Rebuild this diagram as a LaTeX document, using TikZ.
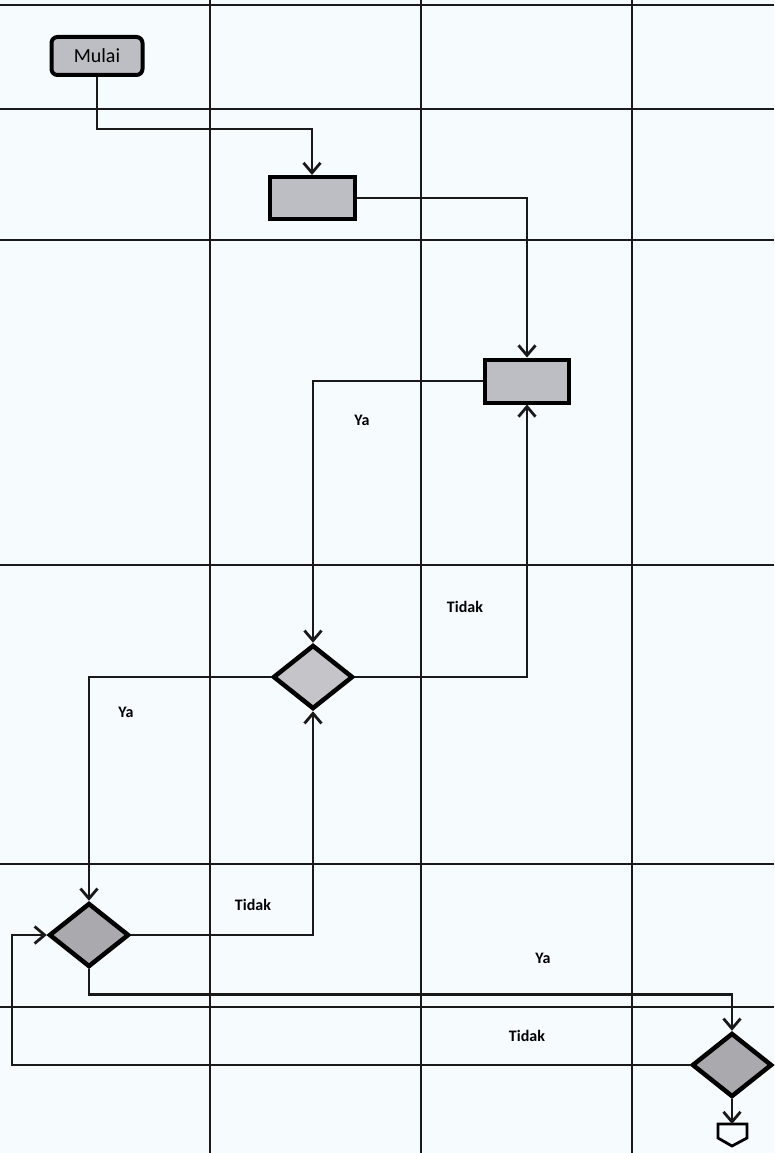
\documentclass[tikz,border=0pt]{standalone}
\usepackage{fontspec}
\setmainfont{Carlito}
\usetikzlibrary{arrows.meta, shapes.geometric}
\definecolor{paper}{HTML}{F6FBFE}
\definecolor{boxgray}{HTML}{BDBDC4}
\definecolor{decgray}{HTML}{A9A9AE}
\definecolor{declight}{HTML}{C4C4C9}

\begin{document}
\begin{tikzpicture}[x=1pt, y=-1pt, >={Straight Barb[length=10pt,width=17pt]},
  lane/.style={line width=2.6pt, black!90},
  flow/.style={->, line width=2.8pt, black!90},
  proc/.style={draw, line width=4pt, fill=boxgray, inner sep=0,
    minimum width=85, minimum height=42},
  dec/.style={diamond, draw, line width=4.5pt, fill=decgray, inner sep=0,
    minimum width=80, minimum height=64},
  lbl/.style={font=\fontsize{16}{19}\selectfont\bfseries}]
  \useasboundingbox (0,0) rectangle (774,1153);
  \fill[paper] (0,0) rectangle (774,1153);
  % swimlane grid
  \foreach \gx in {210,421,632}
    \draw[lane] (\gx,0) -- (\gx,1153);
  \foreach \gy in {5,109,240,565,864,1007}
    \draw[lane] (0,\gy) -- (774,\gy);
  % nodes
  \node[draw, line width=4pt, fill=boxgray, rounded corners=6pt,
    minimum width=91, minimum height=38, inner sep=0,
    font=\fontsize{20}{24}\selectfont] (mulai) at (97,56) {Mulai};
  \node[proc] (proc1) at (312,198) {};
  \node[proc, minimum width=84, minimum height=43] (proc2) at (527,381) {};
  \node[dec, fill=declight] (dec1) at (313,677) {};
  \node[dec] (dec2) at (89,935) {};
  \node[dec] (dec3) at (732,1065) {};
  \coordinate (back) at (12,1000);
  \coordinate (stop) at (732,1124);
  \draw[line width=2.8pt, fill=paper]
    (718,1124) -- (747,1124) -- (747,1138) -- (732,1146) -- (718,1138) -- cycle;
  % connectors
  \draw[flow] (mulai.south) -- ++(0,52) -| (proc1.north);
  \draw[flow] (proc1.east) -| (proc2.north);
  \draw[flow] (proc2.west) -| (dec1.north);
  \draw[flow] (dec1.east) -| (proc2.south);
  \draw[flow] (dec1.west) -| (dec2.north);
  \draw[flow] (dec2.east) -| (dec1.south);
  \draw[flow] (dec2.south) -- ++(0,25) -| (dec3.north);
  \draw[flow] (dec3.west) -| (back) |- (dec2.west);
  \draw[flow] (dec3.south) -- (stop);
  % labels
  \node[lbl] (ya1) at (362,420) {Ya};
  \node[lbl] (tidak1) at (465,607) {Tidak};
  \node[lbl] (ya2) at (126,712) {Ya};
  \node[lbl] (tidak2) at (253,905) {Tidak};
  \node[lbl] (ya3) at (543,958) {Ya};
  \node[lbl] (tidak3) at (527,1036) {Tidak};
\end{tikzpicture}
\end{document}
